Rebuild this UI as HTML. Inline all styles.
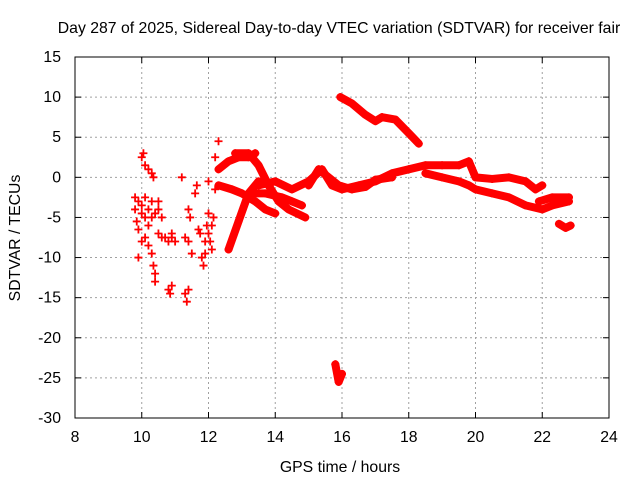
<!DOCTYPE html>
<html><head><meta charset="utf-8"><style>
body{margin:0;background:#fff;font-family:"Liberation Sans",sans-serif}
svg text{font-family:"Liberation Sans",sans-serif;font-size:15.8px;fill:#000}
</style></head><body>
<svg id="chart" width="640" height="480">
<text x="339" y="33" text-anchor="middle">Day 287 of 2025, Sidereal Day-to-day VTEC variation (SDTVAR) for receiver fair</text>
<text x="340" y="472" text-anchor="middle">GPS time / hours</text>
<text transform="translate(20,238) rotate(-90)" text-anchor="middle">SDTVAR / TECUs</text>
<g id="grid"></g><g id="ticks"></g><g id="marks"></g>
<rect x="75" y="57" width="534" height="361" fill="none" stroke="#000"/>
</svg>
<script>
const xTicks=[8,10,12,14,16,18,20,22,24];
const yTicks=[15,10,5,0,-5,-10,-15,-20,-25,-30];
const trackA=[[15.95,10],[16.3,9.2],[16.7,7.8],[17.0,7],[17.2,7.5],[17.6,7.2],[18.0,5.5],[18.3,4.2]];
const trackB=[[13.5,-1],[14,-0.5],[14.5,-1.5],[15,-0.5],[15.4,1],[15.7,-1],[16,-1.5],[16.5,-1],[17,-0.5],[17.5,0.5],[18,1],[18.5,1.5],[19,1.5],[19.5,1.5],[19.8,2],[20,0],[20.5,-0.2],[21,0],[21.5,-0.5],[21.8,-1.5],[22,-1]];
const trackC=[[18.5,0.5],[19,0],[19.5,-0.5],[19.8,-1],[20,-1.5],[20.5,-2],[21,-2.5],[21.5,-3.5],[22,-4],[22.3,-3.5],[22.8,-3]];
const trackC2=[[21.9,-3],[22.3,-2.5],[22.8,-2.5]];
const trackD=[[15,-1],[15.3,1],[15.6,0],[15.9,-1],[16.3,-1.5],[16.7,-1.2],[17.0,-0.3],[17.5,0]];
const trackE=[[22.5,-5.8],[22.7,-6.3],[22.85,-6]];
const trackF=[[12.6,-9],[12.9,-5.5],[13.2,-2],[13.5,-0.5]];
const trackG=[[12.3,-1],[12.7,-1.5],[13.0,-2],[13.4,-3],[13.7,-4],[14,-4.5]];
const trackH=[[12.8,3],[13.2,3],[13.5,1.5],[13.8,-1],[14.1,-3],[14.4,-4],[14.9,-5]];
const trackI=[[12.3,1],[12.6,2],[12.9,2.5],[13.2,2.5],[13.4,3]];
const trackJ=[[13.3,-2],[13.7,-2],[14.2,-2.5],[14.5,-3],[14.8,-3.5]];
const trackK=[[15.8,-23.3],[15.9,-25.5],[16.0,-24.5]];
const tracks=[trackA,trackB,trackC,trackC2,trackD,trackE,trackF,trackG,trackH,trackI,trackJ,trackK];
const scatter=[[9.8,-2.5],[9.8,-4],[9.85,-5.5],[9.9,-6.5],[9.9,-3],[10,-4.5],[10,-3.5],[10.1,-5],[10.1,-2.5],[10.2,-4],[10.2,-6],[10.3,-5],[10.3,-3],[10.4,-4.5],[10.5,-4],[10.5,-3],[10.6,-5],[9.9,-10],[10.0,2.5],[10.05,3],[10.1,1.5],[10.2,1],[10.3,0.5],[10.35,0],[10.0,-8],[10.1,-7.5],[10.2,-8.5],[10.3,-9.5],[10.35,-11],[10.4,-12],[10.4,-13],[10.5,-7],[10.6,-7.5],[10.7,-7.5],[10.8,-8],[10.9,-7.5],[11.0,-8],[10.8,-14],[10.9,-13.5],[10.85,-14.5],[11.3,-14.5],[11.35,-15.5],[11.4,-14],[11.2,0],[11.3,-7.5],[11.4,-8],[11.4,-4],[11.45,-5],[11.5,-9.5],[11.6,-2],[11.65,-1],[11.7,-6.5],[11.75,-7],[11.8,-10],[11.85,-11],[11.9,-8],[11.95,-6],[12.0,-4.5],[12.0,-7],[12.05,-8],[12.1,-9],[12.1,-6],[12.15,-5],[12.0,-0.5],[12.2,2.5],[12.3,4.5],[12.2,-1.5],[11.9,-9.5],[10.9,-7]];
const NS="http://www.w3.org/2000/svg";
const X=t=>75+(t-8)*534/16, Y=v=>57+(15-v)*361/45;
const grid=document.getElementById('grid'),ticks=document.getElementById('ticks'),marks=document.getElementById('marks');
function mk(tag,at,p){const e=document.createElementNS(NS,tag);for(const k in at)e.setAttribute(k,at[k]);p.appendChild(e);return e;}
xTicks.forEach(t=>{const x=X(t);
 if(t>8&&t<24){const g=mk('line',{x1:x,x2:x,y1:57,y2:418,stroke:'#a0a0a0','stroke-dasharray':'2,3'},grid);
 
 }
 const l=mk('text',{x:x,y:442,'text-anchor':'middle'},ticks);l.textContent=t;
 
 
 mk('line',{x1:x,x2:x,y1:418,y2:412,stroke:'#000'},ticks);mk('line',{x1:x,x2:x,y1:57,y2:63,stroke:'#000'},ticks);});
yTicks.forEach(v=>{const y=Y(v);
 if(v<15&&v>-30){const g=mk('line',{x1:75,x2:609,y1:y,y2:y,stroke:'#a0a0a0','stroke-dasharray':'2,3'},grid);
 
 }
 const l=mk('text',{x:61,y:y+5,'text-anchor':'end'},ticks);l.textContent=v;
 
 
 mk('line',{x1:75,x2:81,y1:y,y2:y,stroke:'#000'},ticks);mk('line',{x1:609,x2:603,y1:y,y2:y,stroke:'#000'},ticks);});
function plus(t,v){const x=X(t),y=Y(v);
 const p=mk('path',{d:`M${x-4},${y}h8M${x},${y-4}v8`,stroke:'#f00','stroke-width':1.8,fill:'none'},marks);
 
 }
tracks.forEach(tr=>{const pl=mk('polyline',{points:tr.map(p=>X(p[0])+','+Y(p[1])).join(' '),stroke:'#f00','stroke-width':8,fill:'none','stroke-linejoin':'round','stroke-linecap':'round'},marks);
 
 
 tr.forEach(p=>plus(p[0],p[1]));});
scatter.forEach(p=>plus(p[0],p[1]));
</script>
</body></html>
